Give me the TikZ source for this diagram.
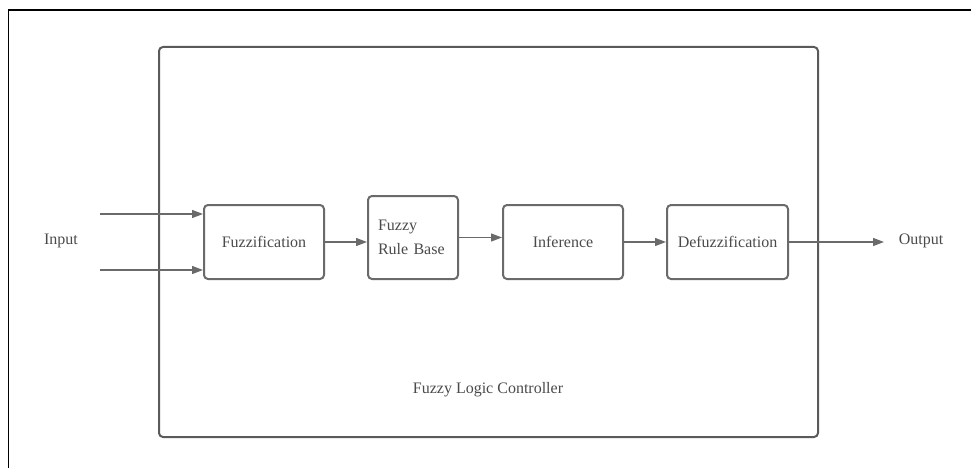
\documentclass[tikz,border=0pt]{standalone}
\usepackage{fontspec}
\setmainfont{Liberation Serif}
\usetikzlibrary{arrows.meta}
\definecolor{edge}{HTML}{6A6A6A}
\definecolor{frameline}{HTML}{5A5A5A}
\definecolor{ink}{HTML}{4A4A4A}
\tikzset{
  stage/.style={draw=edge, line width=2pt, rounded corners=4pt, inner sep=0pt,
    minimum height=74pt, text=ink, font=\fontsize{16}{24}\selectfont},
  flow/.style={draw=edge, line width=1.3pt, -{Triangle[length=11pt,width=8pt]}},
  lbl/.style={text=ink, font=\fontsize{16}{24}\selectfont, inner sep=0pt}
}
\begin{document}
\begin{tikzpicture}[x=1pt, y=-1pt]
\useasboundingbox (0,0) rectangle (971,468);
% page frame
\draw[line width=1.6pt, black] (8.5,468) -- (8.5,10) -- (971,10);
% controller enclosure
\node[draw=frameline, line width=2pt, rounded corners=4pt, minimum width=659pt,
  minimum height=390pt, inner sep=0pt] (flc) at (488.5,242) {};
\node[lbl] (flclabel) at (488,390) {Fuzzy Logic Controller};
% processing stages
\node[stage, minimum width=120pt] (fuzz) at (264,242) {Fuzzification};
\node[stage, minimum width=90pt, minimum height=83pt, text width=70pt,
  align=left, inner xsep=10pt] (rule) at (413,237.5) {Fuzzy\\Rule Base};
\node[stage, minimum width=120pt] (inf) at (563,242) {Inference};
\node[stage, minimum width=121pt] (defuzz) at (727.5,242) {Defuzzification};
% inputs and output
\node[lbl] (input) at (61,241) {Input};
\node[lbl] (output) at (921,241) {Output};
\coordinate (inA) at (100,214);
\coordinate (inB) at (100,270);
\coordinate (outEnd) at (884,242);
\draw[flow] (inA) -- (inA -| fuzz.west);
\draw[flow] (inB) -- (inB -| fuzz.west);
\draw[flow] (fuzz.east) -- (fuzz.east -| rule.west);
\draw[flow] (rule.east) -- (rule.east -| inf.west);
\draw[flow] (inf.east) -- (inf.east -| defuzz.west);
\draw[flow] (defuzz.east) -- (outEnd);
\end{tikzpicture}
\end{document}
